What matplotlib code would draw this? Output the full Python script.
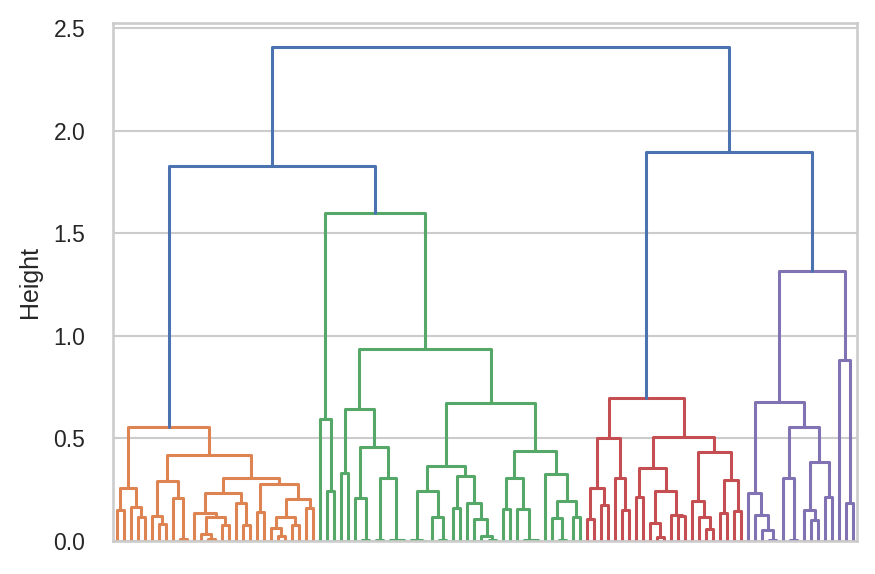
import matplotlib
matplotlib.use('Agg')
import matplotlib.pyplot as plt
import seaborn as sns

# ---- Tree data: leaves are ints (left-to-right order), internal nodes are (left, right, height) ----
orange_tree = (
    ((0, 1, 0.151), (2, (3, 4, 0.118), 0.167), 0.257),
    (((5, (6, 7, 0.081), 0.123), (8, (9, 10, 0.010), 0.211), 0.292),
     (((11, ((12, (13, 14, 0.010), 0.034), (15, 16, 0.078), 0.116), 0.135), (17, (18, 19, 0.078), 0.185), 0.234),
      ((20, 21, 0.143), (((22, (23, 24, 0.024), 0.065), (25, 26, 0.078), 0.119), (27, 28, 0.162), 0.203), 0.277),
      0.306),
     0.420),
    0.558)

green_g1 = ((32, 33, 0.330),
            ((34, (35, 36, 0.005), 0.211), ((37, 38, 0.004), (39, (40, 41, 0.003), 0.006), 0.305), 0.457),
            0.642)
green_g2a = (((42, (43, 44, 0.002), 0.005), (45, (46, 47, 0.004), 0.118), 0.245),
             ((48, 49, 0.159), (50, (51, (52, (53, 54, 0.004), 0.024), 0.106), 0.184), 0.317),
             0.365)
green_g2b = (((55, 56, 0.154), (57, (58, (59, 60, 0.003), 0.006), 0.154), 0.305),
             (61, ((62, (63, 64, 0.004), 0.110), (65, 66, 0.115), 0.197), 0.326),
             0.440)
green_tree = ((29, (30, 31, 0.245), 0.593), (green_g1, (green_g2a, green_g2b, 0.672), 0.935), 1.598)

red_tree = (
    (((67, 68, 0.106), (69, 70, 0.175), 0.260), (71, (72, 73, 0.151), 0.305), 0.500),
    (((74, 75, 0.216), ((76, (77, 78, 0.021), 0.086), (79, (80, 81, 0.122), 0.127), 0.245), 0.354),
     ((82, (83, (84, 85, 0.057), 0.119), 0.195), ((86, 87, 0.138), (88, 89, 0.148), 0.297), 0.435),
     0.508),
    0.695)

purple_tree = (
    ((90, (91, (92, (93, 94, 0.003), 0.054), 0.127), 0.232),
     ((95, (96, 97, 0.003), 0.305), ((98, (99, 100, 0.102), 0.151), (101, 102, 0.216), 0.387), 0.557),
     0.679),
    (103, (104, 105, 0.184), 0.882),
    1.316)

top_left_height = 1.827   # orange + green
top_right_height = 1.896  # red + purple
root_height = 2.407

n_leaves = 106

# ---- Plot ----
sns.set_theme(style='whitegrid')
plt.rcParams['font.family'] = ['Liberation Sans', 'DejaVu Sans']

fig = plt.figure(figsize=(8.75, 5.74), dpi=100)
ax = fig.add_axes([113/875, 1-541/574, (857-113)/875, (541-22.5)/574])

LW = 2.2
pal = sns.color_palette('deep')
blue, orange, green, red, purple = pal[0], pal[1], pal[2], pal[3], pal[4]

def draw(node, color):
    if isinstance(node, int):
        return 5 + 10*node, 0.0
    l, r, h = node
    xl, hl = draw(l, color)
    xr, hr = draw(r, color)
    ax.plot([xl, xl, xr, xr], [hl, h, h, hr], color=color, lw=LW)
    return (xl+xr)/2, h

def link(a, b, h, color):
    ax.plot([a[0], a[0], b[0], b[0]], [a[1], h, h, b[1]], color=color, lw=LW)
    return (a[0]+b[0])/2, h

o = draw(orange_tree, orange)
g = draw(green_tree, green)
r = draw(red_tree, red)
p = draw(purple_tree, purple)
left_top = link(o, g, top_left_height, blue)
right_top = link(r, p, top_right_height, blue)
link(left_top, right_top, root_height, blue)

ax.set_xlim(0, 10*n_leaves)
ax.set_ylim(0, root_height*1.05)
ax.set_xticks([])
ax.set_yticks([0.0, 0.5, 1.0, 1.5, 2.0, 2.5])
ax.set_yticklabels(['0.0', '0.5', '1.0', '1.5', '2.0', '2.5'])
ax.tick_params(axis='y', length=0, pad=20, labelsize=16.5, colors='#262626')
ax.set_ylabel('Height', fontsize=18, labelpad=8, color='#262626')
for s in ax.spines.values():
    s.set_color('#cccccc')
    s.set_linewidth(1.9)
ax.grid(axis='y', color='#cccccc', lw=1.5)
ax.grid(axis='x', visible=False)

fig.savefig('out.png', dpi=100)
